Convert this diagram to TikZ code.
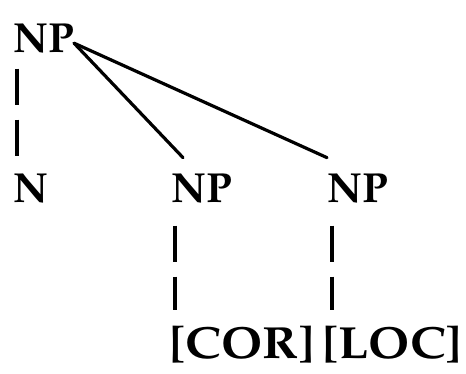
\documentclass[tikz,border=0pt]{standalone}
\usepackage[T1]{fontenc}
\usepackage{mathpazo}
\usepackage{graphicx}
\usetikzlibrary{positioning}

\begin{document}
\begin{tikzpicture}[x=1pt, y=-1pt,
      label/.style={anchor=base west, inner sep=0pt, font=\fontsize{42}{50}\selectfont\bfseries},
      leaf/.style={label, font=\fontsize{45}{52}\selectfont\bfseries},
      branch/.style={line width=3.2pt},
      dashline/.style={line width=3.2pt, dash pattern=on 36pt off 15pt}]
      \useasboundingbox (0,0) rectangle (466,373);
      % nodes at their baselines
      \node[label] (np) at (13,52) {NP};
      \node[label] (n) at (13,202) {N};
      \node[label] (npcor) at (171,202) {NP};
      \node[label] (nploc) at (327,202) {NP};
      \node[leaf] (cor) at (169,358) {\scalebox{1.1}[1]{[COR]}};
      \node[leaf] (loc) at (322,358) {\scalebox{1.1}[1]{[LOC]}};
      % branches
      \draw[branch, line cap=round] ([yshift=-5pt]np.east) -- ([xshift=12pt,yshift=16pt]npcor.north west);
      \draw[branch, line cap=round] ([yshift=-5pt]np.east) -- ([xshift=0pt,yshift=16pt]nploc.north west);
      \draw[dashline] ([xshift=4pt,yshift=-16pt]np.south west) -- ([xshift=4pt,yshift=16pt]n.north west);
      \draw[dashline] ([xshift=4pt,yshift=-23pt]npcor.south west) -- ([xshift=6pt,yshift=15pt]cor.north west);
      \draw[dashline] ([xshift=5pt,yshift=-23pt]nploc.south west) -- ([xshift=10pt,yshift=15pt]loc.north west);
   \end{tikzpicture}
\end{document}
